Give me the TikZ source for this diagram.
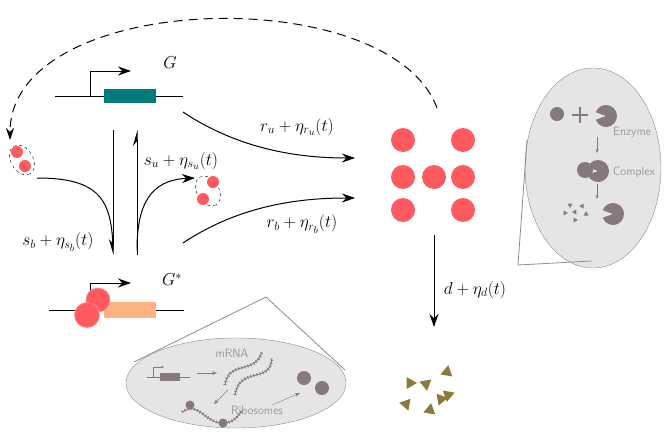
\documentclass[tikz,border=0pt]{standalone}
\usetikzlibrary{arrows.meta}
\begin{document}
\begin{tikzpicture}[x=1pt,y=-1pt,
  gene/.style={line width=1pt},
  arr/.style={line width=1pt,-{Stealth[length=13pt,width=9pt]}},
  lbl/.style={font=\LARGE},
  itxt/.style={text=tgray,font=\sffamily\large},
  tick/.style={draw=mgray,line width=3.2pt,dash pattern=on 0.8pt off 2.4pt},
  tline/.style={draw=mgray,line width=0.9pt}]
\definecolor{mgray}{HTML}{86797E}
\definecolor{tgray}{HTML}{999999}
\definecolor{pred}{HTML}{FF5A5F}
\definecolor{teal1}{HTML}{007A7A}
\definecolor{orng}{HTML}{FFB380}
\definecolor{brn}{HTML}{8B7A3A}
\useasboundingbox (0,0) rectangle (664,437);
% callout ellipses
\fill[gray!20,draw=gray!90] (593,168) ellipse[x radius=68,y radius=100];
\draw[gray!90,line width=0.8pt] (527,140) -- (518,265) -- (592,261);
\fill[gray!20,draw=gray!90] (236,383) ellipse[x radius=110,y radius=45];
\draw[gray!90,line width=0.8pt] (134,362) -- (266,297) -- (345,370);
% gene G
\coordinate (gl) at (55,96); \coordinate (gr) at (183,96);
\draw[gene] (gl) -- (gr);
\fill[teal1] (104,89) rectangle (156,103);
\draw[gene,-{Stealth[length=13pt,width=9pt]}] (90,96) -- (90,71) -- (131,71);
\node[lbl] (G) at (170,63) {$G$};
% gene G*
\draw[gene] (49,310) -- (184,310);
\fill[orng] (104,302) rectangle (156,318);
\draw[gene,-{Stealth[length=13pt,width=9pt]}] (90,310) -- (90,283) -- (131,283);
\fill[pred,draw=pred!70!white,line width=0.8pt] (98,300) circle (12);
\fill[pred,draw=pred!70!white,line width=0.8pt] (87,315) circle (12.5);
\node[lbl] (Gs) at (172,280) {$G^{*}$};
% transitions
\coordinate (d1) at (113,130); \coordinate (d2) at (113,255);
\coordinate (u1) at (137,255); \coordinate (u2) at (137,130);
\draw[line width=1pt,-{Stealth[harpoon,swap,length=14pt,width=8pt]}] (d1) -- (d2);
\draw[line width=1pt,-{Stealth[harpoon,length=14pt,width=8pt]}] (u1) -- (u2);
\node[lbl] (sb) at (58,242) {$s_b+\eta_{s_b}(t)$};
\node[lbl] (su) at (181,161) {$s_u+\eta_{s_u}(t)$};
% dimers
\draw[dashed,rotate around={-60:(22,160)}] (22,160) ellipse[x radius=16,y radius=11];
\fill[pred] (17,152) circle (6); \fill[pred] (25,166) circle (6);
\draw[dashed,rotate around={-60:(208,191)}] (208,191) ellipse[x radius=16,y radius=11];
\fill[pred] (213,182) circle (6); \fill[pred] (203,199) circle (6);
\coordinate (dimL) at (37,178); \coordinate (dimR) at (195,178);
\draw[line width=1pt] (dimL) .. controls (100,178) and (112,200) .. (113,250);
\draw[arr] (137,250) .. controls (137,205) and (150,180) .. (dimR);
% protein cluster
\foreach \x/\y in {403/140,463/140,403/177,434/177,463/177,403/210,463/210}
  \fill[pred] (\x,\y) circle (12);
\coordinate (pc1) at (355,158); \coordinate (pc2) at (355,198);
\draw[arr] (183,112) .. controls (240,150) and (300,158) .. (pc1);
\draw[arr] (183,243) .. controls (240,205) and (300,198) .. (pc2);
\node[lbl] (ru) at (297,127) {$r_u+\eta_{r_u}(t)$};
\node[lbl] (rb) at (302,224) {$r_b+\eta_{r_b}(t)$};
% dashed feedback
\draw[line width=1pt,dash pattern=on 9pt off 6pt,-{Stealth[length=12pt,width=8pt]}] (437,108) .. controls (390,-20) and (10,-10) .. (10,140);
% degradation
\coordinate (dg1) at (434,235); \coordinate (dg2) at (434,327);
\draw[arr] (dg1) -- (dg2);
\node[lbl] (dl) at (475,290) {$d+\eta_d(t)$};
\foreach \x/\y/\r in {410/383/0,447/372/40,426/384/200,441/399/110,406/404/70,430/410/160,448/395/-20}
  \fill[brn] (\x,\y) ++(\r:7) -- ++(\r+150:12) -- ++(\r+270:12) -- cycle;
% enzyme callout contents
\fill[mgray] (557,114) circle (7);
\draw[mgray,line width=1.3pt] (572,115) -- (588,115) (580,107) -- (580,123);
\fill[mgray] (606,116) -- ++(-160:11) arc[start angle=-160,end angle=160,radius=11] -- cycle;
\node[itxt] (enz) at (632,133) {Enzyme};
\draw[mgray,-{Stealth[length=4pt]}] (597,137) -- (597,153);
\fill[mgray] (585,170) circle (8);
\fill[mgray] (598,171) -- ++(-160:11) arc[start angle=-160,end angle=160,radius=11] -- cycle;
\node[itxt] (cpx) at (634,172) {Complex};
\draw[mgray,-{Stealth[length=4pt]}] (597,184) -- (597,199);
\foreach \x/\y/\r in {570/205/90,582/206/60,565/213/0,575/212/180,586/214/30,575/220/120}
  \fill[mgray] (\x,\y) ++(\r:3) -- ++(\r+150:5) -- ++(\r+270:5) -- cycle;
\fill[mgray] (613,214) -- ++(-160:11) arc[start angle=-160,end angle=160,radius=11] -- cycle;
% ribosome callout contents
\draw[mgray,line width=0.6pt] (147,377) -- (190,377);
\draw[mgray,line width=0.6pt,-{Stealth[length=3pt]}] (153,377) -- (153,367) -- (164,367);
\fill[mgray] (160,373) rectangle (180,381);
\node[itxt] (mrna) at (232,353) {mRNA};
\draw[mgray,-{Stealth[length=5pt]}] (197,373) -- (217,373);
\draw[tick] (225,385) .. controls (228,360) and (255,375) .. (262,352);
\draw[tline] (225,385) .. controls (228,360) and (255,375) .. (262,352);
\draw[tick] (235,395) .. controls (240,365) and (270,385) .. (272,358);
\draw[tline] (235,395) .. controls (240,365) and (270,385) .. (272,358);
\draw[mgray,-{Stealth[length=5pt]}] (228,390) -- (214,404);
\draw[tick] (182,412) .. controls (200,400) and (205,425) .. (225,423) .. controls (235,422) and (238,415) .. (243,410);
\draw[tline] (182,412) .. controls (200,400) and (205,425) .. (225,423) .. controls (235,422) and (238,415) .. (243,410);
\fill[mgray] (190,405) circle (4.5); \fill[mgray] (223,423) circle (4.5);
\node[itxt] (ribo) at (257,410) {Ribosomes};
\draw[mgray,-{Stealth[length=5pt]}] (272,405) -- (300,393);
\fill[mgray] (304,378) circle (7); \fill[mgray] (322,388) circle (7);
\end{tikzpicture}
\end{document}
